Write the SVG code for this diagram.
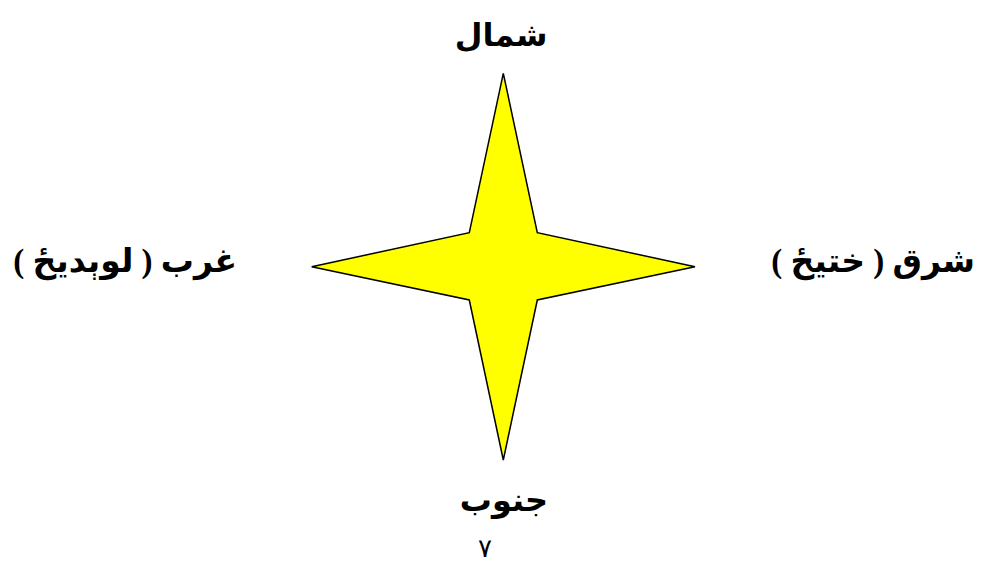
<svg xmlns="http://www.w3.org/2000/svg" width="983" height="564" viewBox="0 0 983 564">
<style>
.lbl{font-family:"Liberation Serif","DejaVu Sans",serif;font-weight:bold;font-size:32px;fill:#000;text-anchor:middle;direction:rtl}
.side{font-size:33px;text-anchor:start}
.num{font-family:"Liberation Serif","DejaVu Sans",serif;font-size:26px;fill:#000;text-anchor:middle}
</style>
<rect width="983" height="564" fill="#fff"/>
<g id="star">
<polygon points="503.3,73.3 537.3,232.7 695,266.7 537.3,300 503.3,460 469.3,300 311.7,266.7 469.3,232.7" fill="#ffff00" stroke="#000" stroke-width="1.5" stroke-linejoin="miter"/>
</g>
<g id="north"><text class="lbl" x="501" y="46">شمال</text></g>
<g id="south"><text class="lbl" x="504" y="511">جنوب</text></g>
<g id="west"><text class="lbl side" x="237" y="272">غرب ( لوېديځ )</text></g>
<g id="east"><text class="lbl side" x="975" y="272">شرق ( ختيځ )</text></g>
<g id="page"><text class="num" x="485" y="557">٧</text></g>
</svg>
